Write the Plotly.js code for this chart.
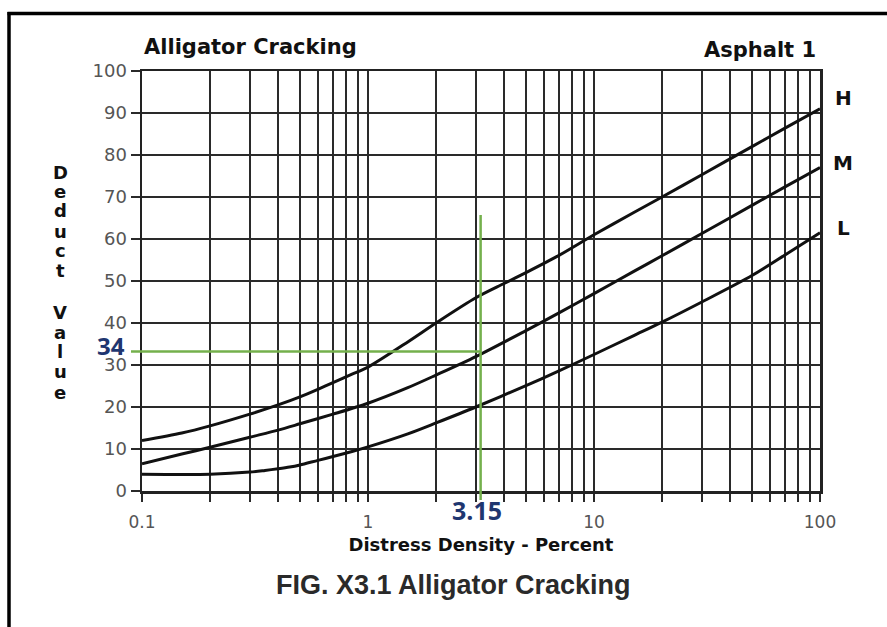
<!DOCTYPE html>
<html>
<head>
<meta charset="utf-8">
<script src="https://cdn.plot.ly/plotly-3.0.1.min.js"></script>
<style>
  html, body { margin: 0; padding: 0; background: #fff; }
  #chart { width: 887px; height: 627px; }
</style>
</head>
<body>
<div id="chart"></div>
<script>
// ---- data ----
const chartTitle = "Alligator Cracking";
const pavementLabel = "Asphalt 1";
const figCaption = "FIG. X3.1 Alligator Cracking";
const xTitle = "Distress Density - Percent";
const yTitleLetters = ["D","e","d","u","c","t","","V","a","l","u","e"];

const severityNames = ["H", "M", "L"];

const hX = [0.1, 0.15, 0.2, 0.3, 0.4, 0.5, 0.6, 0.7, 0.85, 1, 1.5, 2, 3, 4, 5, 7, 10, 15, 20, 30, 50, 70, 100];
const hY = [12, 13.8, 15.5, 18.3, 20.5, 22.4, 24.2, 25.8, 27.8, 29.5, 35.5, 40, 46, 49.4, 52, 56.1, 61, 66.3, 70, 75.3, 82, 86.4, 91];

const mX = [0.1, 0.15, 0.2, 0.3, 0.4, 0.5, 0.7, 1, 1.5, 2, 3, 5, 7, 10, 15, 20, 30, 50, 70, 100];
const mY = [6.5, 8.8, 10.4, 12.8, 14.5, 16.0, 18.3, 20.9, 24.6, 27.6, 32, 38.2, 42.4, 47, 52.3, 56, 61.3, 68, 72.4, 77];

const lX = [0.1, 0.2, 0.3, 0.35, 0.4, 0.45, 0.5, 0.6, 0.7, 0.85, 1, 1.5, 2, 3, 5, 7, 10, 15, 20, 30, 50, 70, 100];
const lY = [4, 4, 4.5, 4.9, 5.3, 5.7, 6.2, 7.3, 8.2, 9.4, 10.5, 13.6, 16.2, 20, 25.1, 28.6, 32.5, 37, 40.2, 45, 51.3, 56.2, 61.5];

const xTickVals = [0.1,0.2,0.3,0.4,0.5,0.6,0.7,0.8,0.9,
                   1,2,3,4,5,6,7,8,9,
                   10,20,30,40,50,60,70,80,90,100];
const xLabelVals = [0.1, 1, 10, 100];
const xLabelText = ["0.1", "1", "10", "100"];

const readDensity = 3.15;      // percent
const readDensityLabel = "3.15";
const readDeduct = 33.2;       // where the read-off line is drawn
const readDeductLabel = "34";

// ---- helpers ----
const xMinLog = -1, xMaxLog = 2;
function xPaper(v) { return (Math.log10(v) - xMinLog) / (xMaxLog - xMinLog); }
function yPaper(v) { return v / 100; }

const curveLine = { color: "#111", width: 3, shape: "spline", smoothing: 0.8 };

const traces = [
  { x: hX, y: hY, name: severityNames[0], mode: "lines", line: curveLine, hoverinfo: "x+y+name" },
  { x: mX, y: mY, name: severityNames[1], mode: "lines", line: curveLine, hoverinfo: "x+y+name" },
  { x: lX, y: lY, name: severityNames[2], mode: "lines", line: curveLine, hoverinfo: "x+y+name" }
];

const tickText = xTickVals.map(v => {
  const i = xLabelVals.indexOf(v);
  return i >= 0 ? xLabelText[i] : "";
});

// pixel geometry of plot area: left 142, right 820, top 71, bottom 491
const W = 678, H = 420;
function pxX(px) { return (px - 142) / W; }
function pxY(py) { return (491 - py) / H; }

const green = "#74b04c";

const annotations = [
  { text: chartTitle, xref: "paper", yref: "paper", x: 0, y: pxY(47), xanchor: "left", yanchor: "middle",
    showarrow: false, font: { family: "DejaVu Sans", size: 21, color: "#111", weight: "bold" } },
  { text: pavementLabel, xref: "paper", yref: "paper", x: pxX(818), y: pxY(50), xanchor: "right", yanchor: "middle",
    showarrow: false, font: { family: "DejaVu Sans", size: 21, color: "#111", weight: "bold" } },
  { text: figCaption, xref: "paper", yref: "paper", x: pxX(453), y: pxY(585), xanchor: "center", yanchor: "middle",
    showarrow: false, font: { family: "Liberation Sans", size: 27, color: "#2a2a2a", weight: "bold" } },
  { text: readDeductLabel, xref: "paper", yref: "paper", x: pxX(127), y: pxY(345), xanchor: "right", yanchor: "middle",
    showarrow: false, font: { family: "Open Sans", size: 24, color: "#1f3670", weight: "bold" } },
  { text: readDensityLabel, xref: "paper", yref: "paper", x: pxX(477), y: pxY(510), xanchor: "center", yanchor: "middle",
    showarrow: false, font: { family: "Open Sans", size: 25, color: "#1f3670", weight: "bold" } }
];

// severity labels at right ends
const sevY = [98, 163, 228];
severityNames.forEach((s, i) => {
  annotations.push({ text: s, xref: "paper", yref: "paper", x: pxX(843), y: pxY(sevY[i]),
    xanchor: "center", yanchor: "middle", showarrow: false,
    font: { family: "DejaVu Sans", size: 20, color: "#111", weight: "bold" } });
});

// vertical stacked y-axis title
const letterY = [172, 191, 210, 231, 250, 270, 0, 312, 332, 351, 371, 392];
yTitleLetters.forEach((ch, i) => {
  if (!ch) return;
  annotations.push({ text: ch, xref: "paper", yref: "paper", x: pxX(60), y: pxY(letterY[i]),
    xanchor: "center", yanchor: "middle", showarrow: false,
    font: { family: "DejaVu Sans", size: 18, color: "#111", weight: "bold" } });
});

const shapes = [
  // outer frame: top and left
  { type: "line", xref: "paper", yref: "paper", x0: pxX(7.5), x1: pxX(900), y0: pxY(13.5), y1: pxY(13.5),
    line: { color: "#000", width: 3.5 } },
  { type: "line", xref: "paper", yref: "paper", x0: pxX(9), x1: pxX(9), y0: pxY(12), y1: pxY(640),
    line: { color: "#000", width: 3.5 } },
  // read-off lines
  { type: "line", xref: "paper", yref: "paper", x0: pxX(131), x1: xPaper(readDensity), y0: yPaper(readDeduct), y1: yPaper(readDeduct),
    line: { color: green, width: 2.5 }, layer: "above" },
  { type: "line", xref: "paper", yref: "paper", x0: xPaper(readDensity), x1: xPaper(readDensity), y0: pxY(500), y1: pxY(215),
    line: { color: green, width: 2.5 }, layer: "above" }
];

const layout = {
  width: 887, height: 627,
  margin: { l: 142, r: 67, t: 71, b: 136 },
  paper_bgcolor: "#fff", plot_bgcolor: "#fff",
  showlegend: false,
  xaxis: {
    type: "log", range: [xMinLog, xMaxLog],
    tickmode: "array", tickvals: xTickVals, ticktext: tickText,
    showgrid: true, gridcolor: "#2a2a2a", gridwidth: 1.8,
    ticks: "outside", ticklen: 8, tickwidth: 1.8, tickcolor: "#2a2a2a",
    ticklabelstandoff: 6,
    showline: true, mirror: true, linecolor: "#222", linewidth: 2.5,
    tickfont: { family: "DejaVu Sans", size: 17, color: "#555" },
    title: { text: xTitle, standoff: 8, font: { family: "DejaVu Sans", size: 18, color: "#111", weight: "bold" } },
    zeroline: false, fixedrange: true
  },
  yaxis: {
    range: [0, 100], dtick: 10, tick0: 0,
    showgrid: true, gridcolor: "#2a2a2a", gridwidth: 1.8,
    ticks: "outside", ticklen: 9, tickwidth: 1.8, tickcolor: "#2a2a2a",
    showline: true, mirror: true, linecolor: "#222", linewidth: 2.5,
    tickfont: { family: "DejaVu Sans", size: 18, color: "#555" },
    zeroline: false, fixedrange: true
  },
  annotations: annotations,
  shapes: shapes
};

Plotly.newPlot("chart", traces, layout, { displayModeBar: false, staticPlot: true });
</script>
</body>
</html>
